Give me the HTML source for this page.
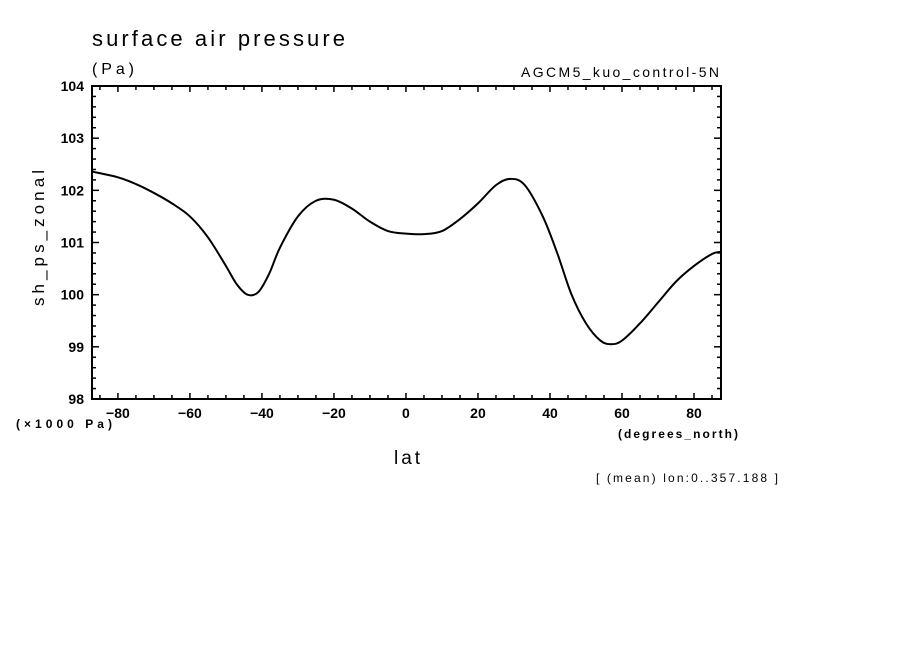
<!DOCTYPE html>
<html><head><meta charset="utf-8"><style>
body{margin:0;background:#fff;}
svg{display:block;font-family:"Liberation Sans",sans-serif;}
</style></head><body>
<svg width="904" height="654">
<rect width="904" height="654" fill="#fff"/>
<text x="92" y="46" font-size="22" textLength="253" lengthAdjust="spacing">surface air pressure</text>
<text x="92" y="74" font-size="16" textLength="42">(Pa)</text>
<text x="521" y="77" font-size="14" textLength="198" lengthAdjust="spacing">AGCM5_kuo_control-5N</text>
<text x="44" y="238" font-size="17" text-anchor="middle" textLength="136" lengthAdjust="spacing" transform="rotate(-90 44 238)">sh_ps_zonal</text>
<text x="394" y="464" font-size="19" textLength="26">lat</text>
<text x="16" y="428" font-size="12" font-weight="bold" textLength="96" lengthAdjust="spacing">(×1000 Pa)</text>
<text x="618" y="438" font-size="12" font-weight="bold" textLength="120" lengthAdjust="spacing">(degrees_north)</text>
<text x="596" y="482" font-size="12" textLength="182" lengthAdjust="spacing">[ (mean) lon:0..357.188 ]</text>
<g id="axes"></g>
<g id="marks"></g>
<rect x="92" y="86" width="629" height="313" fill="none" stroke="#000" stroke-width="2"/>
</svg>
<script>
const lats=[-87.2,-80,-75,-70,-65,-60,-55,-50,-47,-44,-41,-38,-35,-30,-25,-20,-15,-10,-5,0,5,10,15,20,25,29,33,38,42,46,50,54,57,60,65,70,75,80,85,87.5];
const values=[102.36,102.25,102.12,101.95,101.75,101.5,101.1,100.55,100.2,100.0,100.05,100.4,100.9,101.5,101.8,101.82,101.65,101.4,101.22,101.17,101.16,101.22,101.45,101.75,102.1,102.22,102.1,101.5,100.8,100.0,99.45,99.12,99.05,99.12,99.45,99.85,100.25,100.55,100.78,100.82];
const xTicks=[-80,-60,-40,-20,0,20,40,60,80];
const yTicks=[98,99,100,101,102,103,104];
const X0=92,X1=721,Y0=86,Y1=399,LMIN=-87.2,LMAX=87.5,PMIN=98,PMAX=104;
const xs=v=>X0+(v-LMIN)/(LMAX-LMIN)*(X1-X0);
const ys=v=>Y1-(v-PMIN)/(PMAX-PMIN)*(Y1-Y0);
const NS="http://www.w3.org/2000/svg";
const ax=document.getElementById('axes'),mk=document.getElementById('marks');
function ln(x1,y1,x2,y2,w){const l=document.createElementNS(NS,'line');l.setAttribute('x1',x1);l.setAttribute('y1',y1);l.setAttribute('x2',x2);l.setAttribute('y2',y2);l.setAttribute('stroke','#000');l.setAttribute('stroke-width',w||1.5);ax.appendChild(l);return l;}
for(let v=-85;v<=85;v+=5){const x=xs(v);const maj=v%20===0;const L=maj?6:4;
 const a=ln(x,Y1,x,Y1-L);
 const b=ln(x,Y0,x,Y0+L);}
for(let i=0;i<=30;i++){const v=98+i*0.2;const y=ys(v);const maj=i%5===0;const L=maj?7:4;
 const a=ln(X0,y,X0+L,y);
 const b=ln(X1,y,X1-L,y);}
xTicks.forEach(v=>{const t=document.createElementNS(NS,'text');t.setAttribute('x',xs(v));t.setAttribute('y',418);t.setAttribute('font-size','14');t.setAttribute('font-weight','bold');t.setAttribute('text-anchor','middle');t.textContent=String(v).replace('-','−');


ax.appendChild(t);});
yTicks.forEach(v=>{const t=document.createElementNS(NS,'text');t.setAttribute('x',84);t.setAttribute('y',ys(v)+5);t.setAttribute('font-size','14');t.setAttribute('font-weight','bold');t.setAttribute('text-anchor','end');t.textContent=v;


ax.appendChild(t);});
const pts=lats.map((l,i)=>[xs(l),ys(values[i])]);
let d='M'+pts[0][0]+','+pts[0][1];
for(let i=0;i<pts.length-1;i++){const p0=pts[i-1]||pts[i],p1=pts[i],p2=pts[i+1],p3=pts[i+2]||p2;
 d+=' C'+(p1[0]+(p2[0]-p0[0])/6)+','+(p1[1]+(p2[1]-p0[1])/6)+' '+(p2[0]-(p3[0]-p1[0])/6)+','+(p2[1]-(p3[1]-p1[1])/6)+' '+p2[0]+','+p2[1];}
const path=document.createElementNS(NS,'path');path.setAttribute('d',d);path.setAttribute('fill','none');path.setAttribute('stroke','#000');path.setAttribute('stroke-width','2');


mk.appendChild(path);
</script>
</body></html>
